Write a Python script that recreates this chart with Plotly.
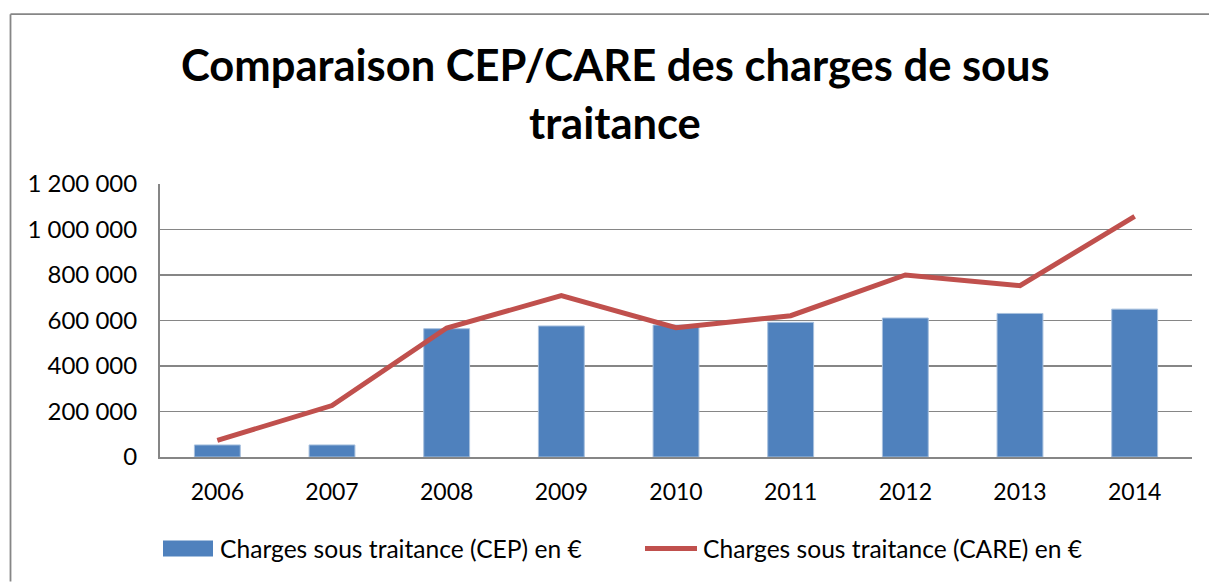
import plotly.graph_objects as go

years = ["2006", "2007", "2008", "2009", "2010", "2011", "2012", "2013", "2014"]
cep = [53000, 53000, 564000, 576000, 580000, 592000, 611000, 631000, 650000]
care = [73000, 226000, 567000, 709000, 568000, 621000, 800000, 753000, 1058000]
cep_name = "Charges sous traitance (CEP) en €"
care_name = "Charges sous traitance (CARE) en €"
title_lines = ["Comparaison CEP/CARE des charges de sous", "traitance"]

W, H = 1209, 582
L, R, T, B = 160, 1192, 183.7, 457.3

def px(x):
    return (x - L) / (R - L)

def py(y):
    return (B - y) / (B - T)

FONT = "Lato"
GRID = "#868686"

fig = go.Figure()
fig.add_trace(go.Bar(
    x=years, y=cep, name=cep_name,
    marker=dict(color="#4F81BD", line=dict(color="#A7C0DE", width=1)),
    width=0.4,
))
fig.add_trace(go.Scatter(
    x=years, y=care, name=care_name, mode="lines",
    line=dict(color="#C0504D", width=5),
))

shapes = [
    # outer chart frame (top and left edges visible)
    dict(type="line", xref="paper", yref="paper",
         x0=px(10.5), x1=px(1209), y0=py(13.5), y1=py(13.5),
         line=dict(color=GRID, width=1.8)),
    dict(type="line", xref="paper", yref="paper",
         x0=px(10.5), x1=px(10.5), y0=py(13.5), y1=py(582),
         line=dict(color=GRID, width=1.8)),
    # legend patches
    dict(type="rect", xref="paper", yref="paper",
         x0=px(163), x1=px(213), y0=py(557), y1=py(541),
         line=dict(width=0), fillcolor="#4F81BD"),
    dict(type="line", xref="paper", yref="paper",
         x0=px(645), x1=px(697), y0=py(549), y1=py(549),
         line=dict(color="#C0504D", width=5)),
]

annotations = [
    dict(text=title_lines[0], xref="paper", yref="paper", x=px(615), y=py(63),
         xanchor="center", yanchor="middle", showarrow=False,
         font=dict(family=FONT, size=43.5, color="black", weight="bold")),
    dict(text=title_lines[1], xref="paper", yref="paper", x=px(615), y=py(122),
         xanchor="center", yanchor="middle", showarrow=False,
         font=dict(family=FONT, size=43.5, color="black", weight="bold")),
    dict(text=cep_name, xref="paper", yref="paper", x=px(218), y=py(549),
         xanchor="left", yanchor="middle", showarrow=False,
         font=dict(family=FONT, size=24.6, color="black")),
    dict(text=care_name, xref="paper", yref="paper", x=px(701), y=py(549),
         xanchor="left", yanchor="middle", showarrow=False,
         font=dict(family=FONT, size=24.6, color="black")),
]

fig.update_layout(
    width=W, height=H,
    margin=dict(l=L, r=W - R, t=T, b=H - B, pad=0),
    paper_bgcolor="white", plot_bgcolor="white",
    showlegend=False,
    separators=", ",
    font=dict(family=FONT, size=23, color="black"),
    shapes=shapes, annotations=annotations,
    xaxis=dict(showgrid=False, showline=True, linecolor=GRID, linewidth=2,
               ticks="", tickfont=dict(size=23), ticklabelstandoff=13),
    yaxis=dict(range=[0, 1200000], tickvals=[0, 200000, 400000, 600000, 800000, 1000000, 1200000],
               tickformat=",.0f", showgrid=True, gridcolor=GRID, gridwidth=1.5,
               showline=True, linecolor=GRID, linewidth=2, zeroline=False,
               ticks="", tickfont=dict(size=24), ticklabelstandoff=16),
    bargap=0.6,
)

fig.write_html("out.html", config={"displayModeBar": False, "staticPlot": True},
               post_script="document.body.style.margin='0';document.body.style.overflow='hidden';")
